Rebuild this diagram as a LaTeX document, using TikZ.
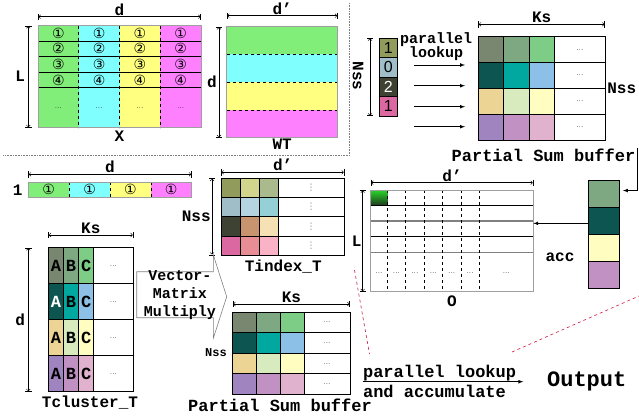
\documentclass[tikz,border=0pt]{standalone}
\usepackage{fontspec}
\setmonofont{Liberation Mono}
\newfontfamily\circfont{DejaVu Sans}
\newfontfamily\numfont{Liberation Sans}
\usetikzlibrary{positioning, arrows}

% stripes of X and WT
\definecolor{xgreen}{RGB}{128,238,120}
\definecolor{xcyan}{RGB}{128,255,255}
\definecolor{xyellow}{RGB}{255,255,128}
\definecolor{xmagenta}{RGB}{255,128,255}
% centroids / partial sums
\definecolor{p11}{RGB}{122,135,112}
\definecolor{p12}{RGB}{125,168,130}
\definecolor{p13}{RGB}{125,205,135}
\definecolor{p21}{RGB}{12,85,80}
\definecolor{p22}{RGB}{0,168,160}
\definecolor{p23}{RGB}{140,192,230}
\definecolor{p31}{RGB}{235,212,148}
\definecolor{p32}{RGB}{215,235,190}
\definecolor{p33}{RGB}{255,253,192}
\definecolor{p41}{RGB}{160,132,192}
\definecolor{p42}{RGB}{193,145,195}
\definecolor{p43}{RGB}{225,178,205}
% indices
\definecolor{t11}{RGB}{145,155,92}
\definecolor{t12}{RGB}{210,214,140}
\definecolor{t13}{RGB}{170,186,140}
\definecolor{t21}{RGB}{160,190,200}
\definecolor{t22}{RGB}{180,212,225}
\definecolor{t23}{RGB}{150,208,215}
\definecolor{t31}{RGB}{62,66,50}
\definecolor{t32}{RGB}{200,148,112}
\definecolor{t33}{RGB}{245,225,180}
\definecolor{t41}{RGB}{220,104,162}
\definecolor{t42}{RGB}{232,140,150}
\definecolor{t43}{RGB}{250,178,198}
\definecolor{otop}{RGB}{40,215,40}
\definecolor{obot}{RGB}{30,60,30}
\definecolor{zoomred}{RGB}{205,25,60}

\newcommand{\fsz}[1]{\fontsize{#1}{#1}\selectfont}

\begin{document}
\begin{tikzpicture}[x=1pt, y=-1pt, line width=0.7pt,
  dim/.style={|<->|, line width=0.6pt},
  lbl/.style={font=\ttfamily\bfseries\fsz{16}, inner sep=0pt},
  frame/.style={draw=gray!75, anchor=north west, inner sep=0pt, outer sep=0pt},
  cell/.style={draw=black, anchor=north west, inner sep=0pt, outer sep=0pt},
  circ/.style={font=\circfont\fsz{14}, inner sep=0pt},
  ell/.style={font=\fsz{8}},
  vell/.style={font=\circfont\fsz{9}, text=gray}]
\useasboundingbox (0,0) rectangle (639,415);

% X
\foreach \c [count=\i from 0] in {xgreen,xcyan,xyellow,xmagenta}
  \fill[\c] ({38+40.75*\i},25.7) rectangle ++(40.75,102);
\foreach \y in {41.3,56.7,72.3,87.7}
  \draw (38,\y) -- (201,\y);
\foreach \i in {1,2,3}
  \draw[dashed] ({38+40.75*\i},25.7) -- ++(0,102);
\node[frame, minimum width=163pt, minimum height=102pt] (X) at (38,25.7) {};
\foreach \n/\y [count=\r] in {①/33.8,②/48,③/64,④/80}
  \foreach \i in {0,...,3}
    \node[circ] (x\r\i) at ({58.4+40.75*\i},\y) {\n};
\foreach \i in {0,...,3}
  \node[ell] (x5\i) at ({58.4+40.75*\i},108) {...};
\draw[dim] ([yshift=9pt]X.north west) -- node[lbl, above=1pt] (dX) {d} ([yshift=9pt]X.north east);
\draw[dim] ([xshift=-9.7pt]X.north west) -- node[lbl, left=3pt] (lX) {L} ([xshift=-9.7pt]X.south west);
\node[lbl, below=3pt of X] (Xlab) {X};

% WT
\foreach \c [count=\i from 0] in {xgreen,xcyan,xyellow,xmagenta}
  \fill[\c] (226.7,{26.7+27.75*\i}) rectangle ++(111,27.75);
\foreach \i in {1,2,3}
  \draw[dashed] (226.7,{26.7+27.75*\i}) -- ++(111,0);
\node[frame, minimum width=111pt, minimum height=111pt] (WT) at (226.7,26.7) {};
\draw[dim] ([yshift=11pt]WT.north west) -- node[lbl, above=1pt] (dWT) {d’} ([yshift=11pt]WT.north east);
\draw[dim] ([xshift=-7.7pt]WT.north west) -- node[lbl, left=2pt] (lWT) {d} ([xshift=-7.7pt]WT.south west);
\node[lbl, below=1pt of WT] (WTlab) {WT};

\draw[gray, densely dotted, line width=0.6pt] (349,3) -- (349,155.5) -- (3,155.5);

% index column + lookup
\foreach \c/\v/\t [count=\i] in {t11/1/black,t21/0/black,t31/2/white,t41/1/black}
  \node[cell, fill=\c, text=\t, font=\numfont\fsz{16}, minimum width=18.7pt, minimum height=19.5pt] (ix\i) at (379,{38+19.5*(\i-1)}) {\v};
\draw[dim] ([xshift=-9pt]ix1.north west) -- ([xshift=-9pt]ix4.south west);
\node[lbl, rotate=-90] (nss1) at (358,76) {Nss};
\node[lbl, align=center, font=\ttfamily\bfseries\fontsize{15}{14}\selectfont] (plk1) at (436,47) {parallel\\lookup};
\foreach \y [count=\i] in {65,85.7,106.7,126.7} {
  \coordinate (la\i) at (414,\y);
  \coordinate (lb\i) at (465,\y);
  \draw[-latex] (la\i) -- (lb\i);
}

% partial sum buffer (top)
\foreach \r in {1,...,4} {
  \foreach \c in {1,2,3}
    \node[cell, fill=p\r\c, minimum width=25.5pt, minimum height=25.8pt] (pt\r\c) at ({478.3+25.5*(\c-1)},{36.7+25.8*(\r-1)}) {};
  \node[cell, ell, minimum width=50.2pt, minimum height=25.8pt] (pt\r4) at (554.8,{36.7+25.8*(\r-1)}) {...};
}
\draw[dim] ([yshift=12.4pt]pt11.north west) -- node[lbl, above=1pt] (ks1) {Ks} ([yshift=12.4pt]pt14.north east);
\node[lbl, right=2pt of pt24.south east] (nss2) {Nss};
\node[lbl, font=\ttfamily\bfseries\fsz{17}] (pslab1) at (543.5,155) {Partial Sum buffer};

% acc column
\foreach \c [count=\i] in {p12,p21,p33,p42}
  \node[cell, fill=\c, minimum width=30.7pt, minimum height=27.1pt] (acc\i) at (588.3,{180+27.1*(\i-1)}) {};
\coordinate (turn) at (637.5,191);
\coordinate (accin) at ([xshift=4pt,yshift=3pt]acc1.east);
\draw[-latex] (turn |- pslab1.north) -- (turn |- accin) -- (accin);
\node[lbl] (acclab) at (560,257.7) {acc};

% O
\shade[top color=otop, bottom color=obot] (370.7,190) rectangle (387.3,205);
\foreach \y in {205,236.7}
  \draw (370.7,\y) -- (533.3,\y);
\foreach \y in {221,252.3}
  \draw[gray, line width=1.3pt] (370.7,\y) -- (533.3,\y);
\foreach \i in {0,...,5}
  \draw[dashed] ({387.3+18.4*\i},190) -- ++(0,101.7);
\node[frame, minimum width=162.6pt, minimum height=101.7pt] (O) at (370.7,190) {};
\foreach \x [count=\i] in {379,396.5,414.9,433.3,451.7,470.1,506.3}
  \node[ell] (od\i) at (\x,273.3) {...};
\draw[dim] ([yshift=7.3pt]O.north west) -- node[lbl, above=1pt] (dO) {d’} ([yshift=7.3pt]O.north east);
\draw[dim] ([xshift=-8pt]O.north west) -- node[lbl, left=1pt] (lO) {L} ([xshift=-8pt]O.south west);
\node[lbl, below=4pt of O] (Olab) {O};
\coordinate (accout) at ([yshift=-2.7pt]acc2.west);
\draw[-latex] (accout) -- (accout -| O.east);

% one row of X
\foreach \c [count=\i from 0] in {xgreen,xcyan,xyellow,xmagenta}
  \fill[\c] ({28.3+40.85*\i},182.3) rectangle ++(40.85,15);
\foreach \i in {1,2,3}
  \draw[dashed] ({28.3+40.85*\i},182.3) -- ++(0,15);
\node[frame, minimum width=163.4pt, minimum height=15pt] (row) at (28.3,182.3) {};
\foreach \i in {0,...,3}
  \node[circ] (r\i) at ({48.7+40.85*\i},189.8) {①};
\node[lbl, left=5.5pt of row] (one) {1};
\draw[dim] ([yshift=8pt]row.north west) -- node[lbl, above=1pt] (drow) {d} ([yshift=8pt]row.north east);

% Tindex_T
\foreach \r in {1,...,4} {
  \foreach \c in {1,2,3}
    \node[cell, fill=t\r\c, minimum width=19pt, minimum height=19.2pt] (ti\r\c) at ({221+19*(\c-1)},{178.3+19.2*(\r-1)}) {};
  \node[cell, vell, minimum width=66.3pt, minimum height=19.2pt] (ti\r4) at (278,{178.3+19.2*(\r-1)}) {⋮};
}
\draw[dim] ([yshift=6pt]ti11.north west) -- node[lbl, above=1pt] (dti) {d’} ([yshift=6pt]ti14.north east);
\draw[dim] ([xshift=-9pt]ti11.north west) -- node[lbl, left=1pt] (nss3) {Nss} ([xshift=-9pt]ti41.south west);
\node[lbl] (tilab) at (283.3,266.7) {Tindex\_T};

% vector-matrix multiply
\draw[gray, line width=0.6pt] (136.7,271.7) -- (213.3,271.7) -- (213.3,255) -- (226.7,296.7)
  -- (213.3,338.3) -- (213.3,317.7) -- (136.7,317.7) -- cycle;
\node[lbl, align=center, font=\ttfamily\bfseries\fontsize{15}{18}\selectfont] (vmm) at (180,295) {Vector-\\Matrix\\Multiply};

% Tcluster_T
\foreach \r/\ta in {1/black,2/white,3/black,4/black} {
  \node[cell, fill=p\r1, text=\ta, font=\ttfamily\bfseries\fsz{17}, minimum width=15.13pt, minimum height=36pt] (tc\r1) at (48.3,{247.7+36*(\r-1)}) {A};
  \node[cell, fill=p\r2, font=\ttfamily\bfseries\fsz{17}, minimum width=15.13pt, minimum height=36pt] (tc\r2) at (63.43,{247.7+36*(\r-1)}) {B};
  \node[cell, fill=p\r3, font=\ttfamily\bfseries\fsz{17}, minimum width=15.13pt, minimum height=36pt] (tc\r3) at (78.56,{247.7+36*(\r-1)}) {C};
  \node[cell, ell, minimum width=39.6pt, minimum height=36pt] (tc\r4) at (93.7,{247.7+36*(\r-1)}) {...};
}
\draw[dim] ([yshift=12.7pt]tc11.north west) -- node[lbl, above=1pt] (ks2) {Ks} ([yshift=12.7pt]tc14.north east);
\draw[dim] ([xshift=-20pt]tc11.north west) -- node[lbl, left=3pt] (dtc) {d} ([xshift=-20pt]tc41.south west);
\node[lbl] (tclab) at (90,402.3) {Tcluster\_T};

% partial sum buffer (bottom)
\foreach \r in {1,...,4} {
  \foreach \c in {1,2,3}
    \node[cell, fill=p\r\c, minimum width=23.8pt, minimum height=20.5pt] (pb\r\c) at ({232.7+23.8*(\c-1)},{312.3+20.5*(\r-1)}) {};
  \node[cell, ell, minimum width=45.9pt, minimum height=20.5pt] (pb\r4) at (304.1,{312.3+20.5*(\r-1)}) {...};
}
\draw[dim] ([yshift=8.3pt]pb11.north west) -- node[lbl, above=1pt] (ks3) {Ks} ([yshift=8.3pt]pb14.north east);
\node[lbl, font=\ttfamily\bfseries\fsz{12}] (nss4) at (216,352.7) {Nss};
\node[lbl, font=\ttfamily\bfseries\fsz{17}] (pslab2) at (280,405) {Partial Sum buffer};

% zoom lines
\draw[zoomred, dashed, line width=0.6pt] (354.5,270) -- (369.5,354);
\draw[zoomred, dashed, line width=0.6pt] (512,352) -- (639,296);

% output
\coordinate (pl0) at (362.7,381.7);
\coordinate (pl1) at (523.3,381.7);
\draw[-latex] (pl0) -- (pl1);
\node[lbl, font=\ttfamily\bfseries\fsz{17}, anchor=south west] (plk2) at (pl0) {parallel lookup};
\node[lbl, font=\ttfamily\bfseries\fsz{17}, anchor=north west] (accu) at ([yshift=-3pt]pl0) {and accumulate};
\node[lbl, font=\ttfamily\bfseries\fsz{22}] (out) at (586.7,381.7) {Output};
\end{tikzpicture}
\end{document}
